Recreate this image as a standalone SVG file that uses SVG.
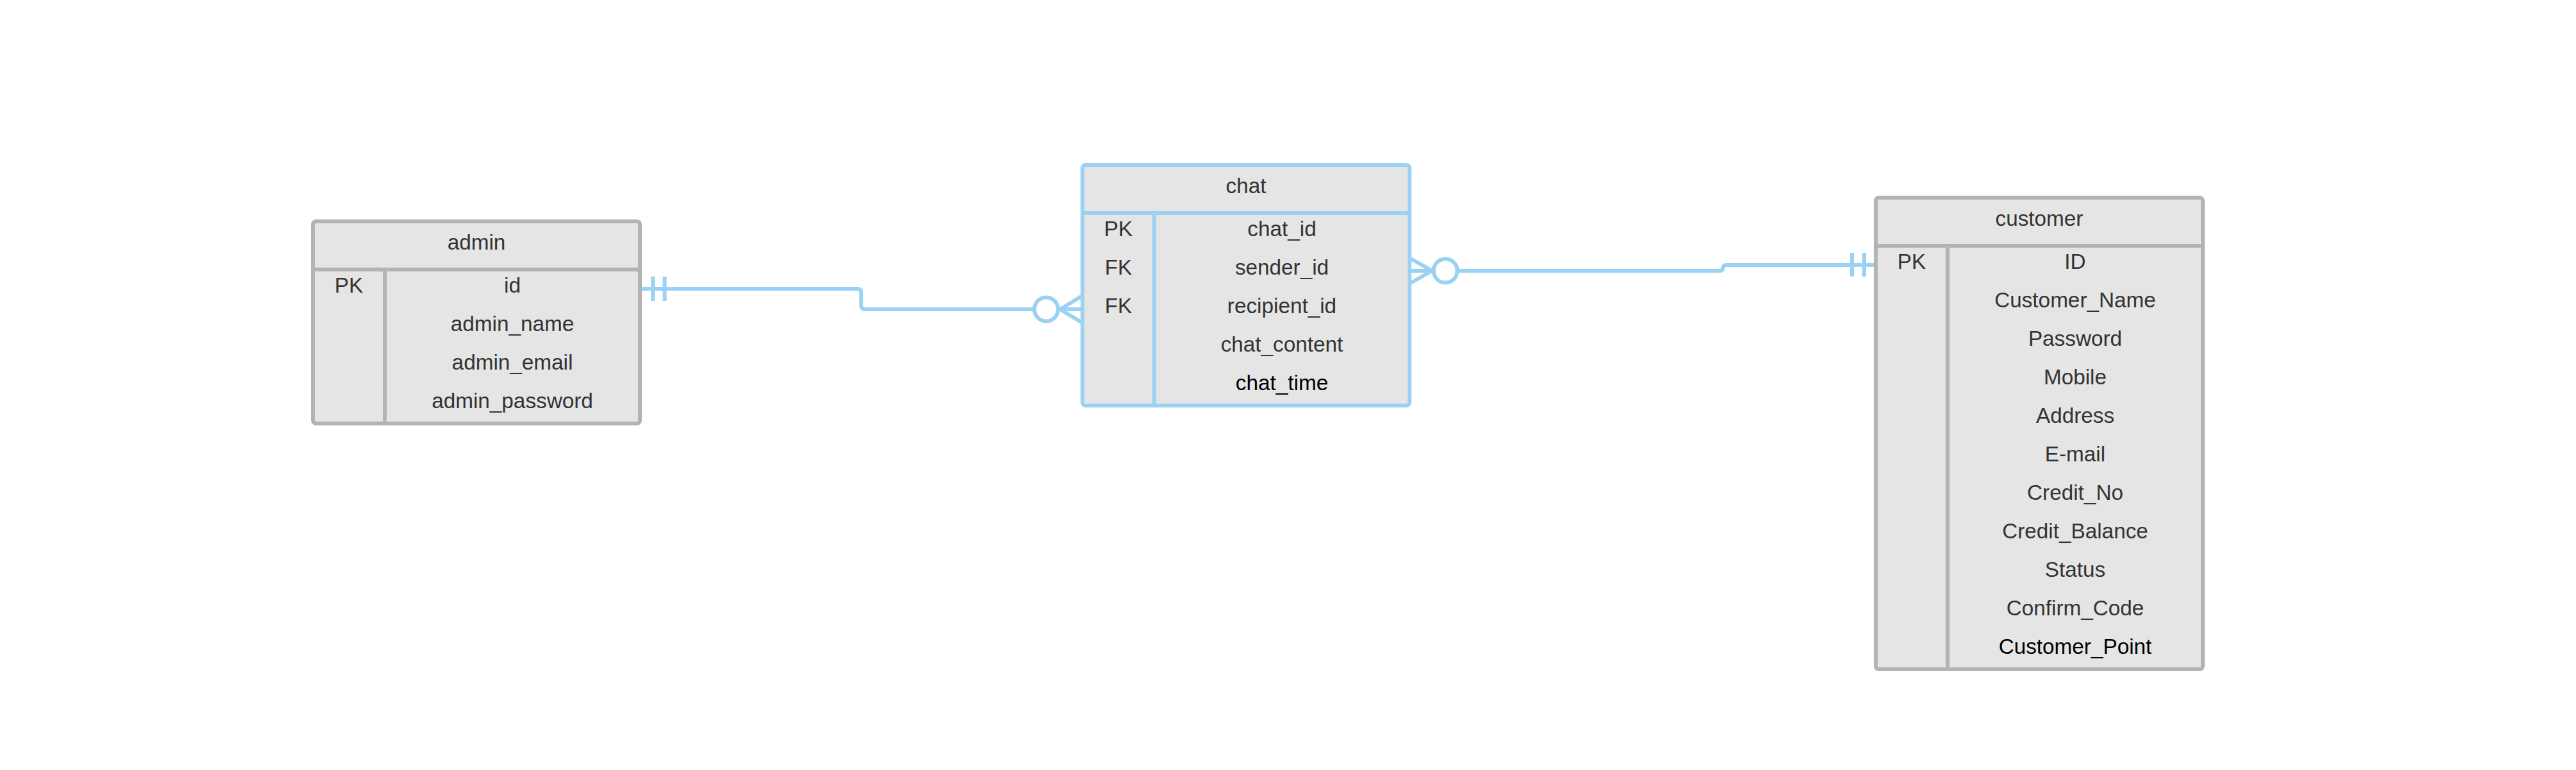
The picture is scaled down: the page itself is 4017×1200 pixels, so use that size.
<svg xmlns="http://www.w3.org/2000/svg" width="4017" height="1200" viewBox="0 0 4017 1200">
<style>
.box{fill:#e5e5e5;stroke-width:6}
.gray{stroke:#b3b3b3}
.blue{stroke:#9bd2f3}
.div{fill:none;stroke-width:6}
text{font-family:"Liberation Sans",Arial,sans-serif;font-size:33.3px;fill:#333333;text-anchor:middle}
text.dark{fill:#000000}
.conn{fill:none;stroke:#9bd2f3;stroke-width:6}
</style>
<rect width="4017" height="1200" fill="#ffffff"/>
<g id="admin">
<rect class="box gray" x="488" y="345" width="510" height="315" rx="5"/>
<path class="div gray" d="M488 420H998M600 420V660"/>
<text x="743" y="388.5">admin</text>
<text x="544" y="456">PK</text>
<text x="799" y="456">id</text>
<text x="799" y="516">admin_name</text>
<text x="799" y="576">admin_email</text>
<text x="799" y="636">admin_password</text>
</g>
<g id="chat">
<rect class="box blue" x="1688" y="257" width="510" height="375" rx="5"/>
<path class="div blue" d="M1688 332H2198M1800 332V632"/>
<text x="1943" y="300.5">chat</text>
<text x="1744" y="368">PK</text>
<text x="1744" y="428">FK</text>
<text x="1744" y="488">FK</text>
<text x="1999" y="368">chat_id</text>
<text x="1999" y="428">sender_id</text>
<text x="1999" y="488">recipient_id</text>
<text x="1999" y="548">chat_content</text>
<text class="dark" x="1999" y="608">chat_time</text>
</g>
<g id="customer">
<rect class="box gray" x="2925" y="308" width="510" height="735" rx="5"/>
<path class="div gray" d="M2925 383H3435M3037 383V1043"/>
<text x="3180" y="351.5">customer</text>
<text x="2981" y="419">PK</text>
<text x="3236" y="419">ID</text>
<text x="3236" y="479">Customer_Name</text>
<text x="3236" y="539">Password</text>
<text x="3236" y="599">Mobile</text>
<text x="3236" y="659">Address</text>
<text x="3236" y="719">E-mail</text>
<text x="3236" y="779">Credit_No</text>
<text x="3236" y="839">Credit_Balance</text>
<text x="3236" y="899">Status</text>
<text x="3236" y="959">Confirm_Code</text>
<text class="dark" x="3236" y="1019">Customer_Point</text>
</g>
<g id="connectors">
<g id="admin-chat">
<path class="conn" d="M1001 450H1337Q1343 450 1343 456V476Q1343 482 1349 482H1613"/>
<path class="conn" d="M1018 431V469M1036.5 431V469"/>
<circle class="conn" cx="1631.5" cy="482" r="18.5"/>
<path class="conn" d="M1650 482H1686M1686 462L1653 482L1686 502"/>
</g>
<g id="chat-customer">
<path class="conn" d="M2272.5 422H2682Q2687 422 2687 417V418Q2687 413 2692 413H2922"/>
<path class="conn" d="M2888 394V431M2907 394V431"/>
<circle class="conn" cx="2254" cy="422" r="18.5"/>
<path class="conn" d="M2198 422H2235.5M2198 402L2233 422L2198 442"/>
</g>
</g>
</svg>
